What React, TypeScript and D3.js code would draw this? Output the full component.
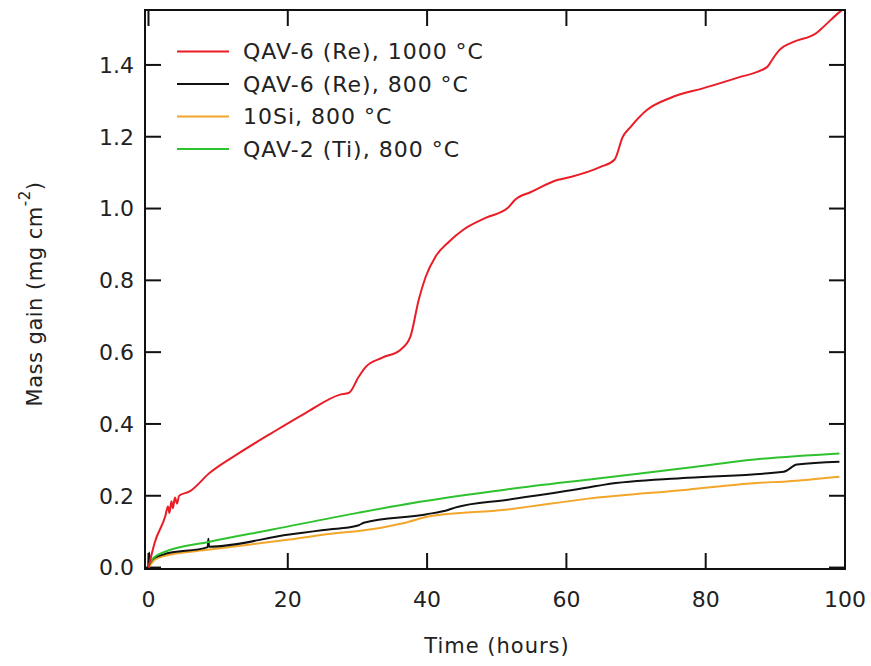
import React, { useEffect, useRef } from 'react';
import * as d3 from 'd3';

// QAV-6 (Re), 1000 °C
const redTime = [0, 0.9, 2.4, 2.8, 3.0, 3.3, 3.5, 3.8, 4.1, 4.4, 5.9, 8.8, 13.1, 17.8, 22.6, 27.4, 28.8, 30.2, 31.2, 33.5, 36.2, 37.6, 38.8, 39.8, 41.2, 43.1, 45.2, 48.4, 51.6, 52.6, 54.9, 58.8, 60.6, 64.9, 66.9, 68.1, 69.2, 71.6, 74.9, 79.8, 84.5, 88.8, 89.8, 90.6, 92.6, 95.9, 96.9, 99.2, 99.6];
const redMass = [0, 0.07, 0.142, 0.17, 0.152, 0.185, 0.165, 0.195, 0.178, 0.2, 0.212, 0.264, 0.32, 0.376, 0.431, 0.481, 0.487, 0.532, 0.559, 0.584, 0.607, 0.643, 0.746, 0.81, 0.866, 0.907, 0.941, 0.974, 1.002, 1.024, 1.046, 1.08, 1.088, 1.116, 1.136, 1.2, 1.227, 1.275, 1.308, 1.336, 1.364, 1.394, 1.422, 1.442, 1.464, 1.489, 1.506, 1.547, 1.553];

// QAV-6 (Re), 800 °C
const blackTime = [0, 0.1, 0.2, 0.5, 2.1, 8.5, 8.6, 8.7, 20.2, 25.9, 27.4, 30.2, 30.9, 39.8, 43.1, 44.0, 51.6, 63.1, 65.5, 77.4, 91.2, 93.1, 99.2];
const blackMass = [0, 0.042, 0.012, 0.022, 0.036, 0.057, 0.08, 0.058, 0.092, 0.106, 0.109, 0.118, 0.125, 0.148, 0.161, 0.167, 0.189, 0.223, 0.231, 0.25, 0.267, 0.287, 0.295];

// 10Si, 800 °C
const orangeTime = [0, 0.9, 2.4, 8.8, 20.2, 27.4, 30.2, 36.9, 40.2, 51.2, 63.1, 77.4, 87.8, 91.6, 99.2];
const orangeMass = [0, 0.022, 0.033, 0.05, 0.078, 0.097, 0.102, 0.125, 0.142, 0.161, 0.192, 0.217, 0.236, 0.24, 0.253];

// QAV-2 (Ti), 800 °C
const greenTime = [0, 0.5, 2.1, 8.8, 17.8, 30.2, 39.2, 51.2, 64.5, 77.4, 87.0, 99.2];
const greenMass = [0.003, 0.022, 0.042, 0.072, 0.106, 0.153, 0.184, 0.217, 0.248, 0.278, 0.301, 0.318];

const seriesNames = ['QAV-6 (Re), 1000 \u00B0C', 'QAV-6 (Re), 800 \u00B0C', '10Si, 800 \u00B0C', 'QAV-2 (Ti), 800 \u00B0C'];
const seriesColors = ['#ea1d27', '#111111', '#f2a62a', '#2ec22e'];

const xTicks = [0, 20, 40, 60, 80, 100];
const yTicks = [0, 0.2, 0.4, 0.6, 0.8, 1.0, 1.2, 1.4];

const App = () => {
  const svgRef = useRef<SVGSVGElement | null>(null);

  useEffect(() => {
    const root = d3.select(svgRef.current);
    root.selectAll('*').remove();

    const W = 871;
    const H = 666;
    const left = 145, right = 845, top = 10, bottom = 569;
    const font = 'DejaVu Sans, sans-serif';

    const svg = root.attr('width', W).attr('height', H);

    const x = d3.scaleLinear().domain([-0.5, 100]).range([left, right]);
    const y = d3.scaleLinear().domain([-0.004, 1.553]).range([bottom, top]);

    const tickLen = 16;

    // ticks pointing inwards, mirrored on all four sides
    const ax = svg.append('g').attr('stroke', '#111').attr('stroke-width', 2);
    xTicks.forEach(t => {
      ax.append('line').attr('x1', x(t)).attr('x2', x(t)).attr('y1', bottom).attr('y2', bottom - tickLen);
      ax.append('line').attr('x1', x(t)).attr('x2', x(t)).attr('y1', top).attr('y2', top + tickLen);
    });
    yTicks.forEach(v => {
      ax.append('line').attr('x1', left).attr('x2', left + tickLen).attr('y1', y(v)).attr('y2', y(v));
      ax.append('line').attr('x1', right).attr('x2', right - tickLen).attr('y1', y(v)).attr('y2', y(v));
    });

    svg.append('g').selectAll('text').data(xTicks).join('text')
      .attr('x', d => x(d)).attr('y', 607)
      .attr('text-anchor', 'middle')
      .style('font-family', font).style('font-size', '22px').attr('fill', '#222')
      .text(d => String(d));

    svg.append('g').selectAll('text').data(yTicks).join('text')
      .attr('x', 134).attr('y', d => y(d))
      .attr('dy', '0.36em')
      .attr('text-anchor', 'end')
      .style('font-family', font).style('font-size', '22px').attr('fill', '#222')
      .text(d => d.toFixed(1));

    // data lines
    const series = [
      { t: redTime, m: redMass },
      { t: blackTime, m: blackMass },
      { t: orangeTime, m: orangeMass },
      { t: greenTime, m: greenMass },
    ];
    const line = d3.line<[number, number]>()
      .x(d => x(d[0]))
      .y(d => y(d[1]))
      .curve(d3.curveMonotoneX);

    const drawOrder = [2, 1, 3, 0];
    drawOrder.forEach(i => {
      const pts: [number, number][] = series[i].t.map((t, k) => [t, series[i].m[k]]);
      svg.append('path')
        .attr('d', line(pts))
        .attr('fill', 'none')
        .attr('stroke', seriesColors[i])
        .attr('stroke-width', 2)
        .attr('stroke-linejoin', 'round');
    });

    // frame
    svg.append('rect')
      .attr('x', left).attr('y', top)
      .attr('width', right - left).attr('height', bottom - top)
      .attr('fill', 'none').attr('stroke', '#111').attr('stroke-width', 2);

    // legend
    const legend = svg.append('g');
    seriesNames.forEach((name, i) => {
      const ry = 51.5 + i * 32.5;
      legend.append('line')
        .attr('x1', 177).attr('x2', 229).attr('y1', ry).attr('y2', ry)
        .attr('stroke', seriesColors[i]).attr('stroke-width', 2);
      legend.append('text')
        .attr('x', 243).attr('y', ry).attr('dy', '0.36em')
        .style('font-family', font).style('font-size', '22px').style('letter-spacing', '1px')
        .attr('fill', '#222')
        .text(name);
    });

    // axis titles
    svg.append('text')
      .attr('x', 497).attr('y', 653)
      .attr('text-anchor', 'middle')
      .style('font-family', font).style('font-size', '21px').style('letter-spacing', '1px')
      .attr('fill', '#222')
      .text('Time (hours)');

    const yTitle = svg.append('text')
      .attr('transform', 'translate(42,294) rotate(-90)')
      .attr('text-anchor', 'middle')
      .style('font-family', font).style('font-size', '21px').style('letter-spacing', '0.5px')
      .attr('fill', '#222');
    yTitle.append('tspan').text('Mass gain (mg cm');
    yTitle.append('tspan').attr('dy', -12).style('font-size', '15px').text('-2');
    yTitle.append('tspan').attr('dy', 12).text(')');
  }, []);

  return <svg ref={svgRef} style={{ position: 'absolute', left: 0, top: 0 }}></svg>;
};

export default App;
